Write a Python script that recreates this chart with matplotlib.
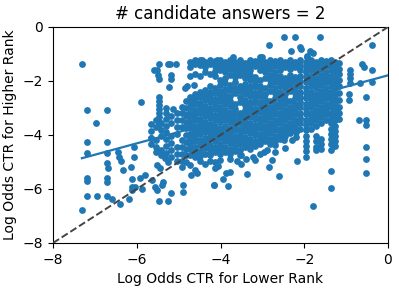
import numpy as np
import matplotlib
matplotlib.use("Agg")
import matplotlib.pyplot as plt

# ---- data (log-odds CTR lower rank vs higher rank) ----
sparse_x = [-7.31, -7.19, -6.71, -6.97, -5.90, -5.60, -5.52, -5.48, -5.49, -5.48,
            -5.25, -5.21, -5.07, -5.18, -5.18, -5.22,
            -5.48, -5.48, -5.48, -5.48, -5.48, -5.48, -5.48, -5.48,
            -5.29, -5.29, -5.13, -4.85, -4.81, -4.63, -4.82, -4.45, -4.09,
            -7.18, -6.70, -7.18, -6.70, -6.44, -6.42, -6.38, -6.07, -6.07, -6.70,
            -6.68, -6.32, -6.14, -7.18, -7.18, -6.70, -6.70, -6.11, -5.92, -5.80,
            -7.18, -6.96, -6.70, -6.60, -6.40, -6.18, -7.30, -6.12, -6.12, -6.04,
            -5.88, -5.67, -5.48, -5.25, -5.18, -4.89, -4.89, -5.56, -5.52, -5.37,
            -5.40, -5.64, -4.16, -5.33, -5.25, -5.52, -5.44, -4.71, -4.57,
            -0.53, -0.53, -0.53, -0.53, -1.37, -1.37, -1.78, -2.18, -2.60, -2.83,
            -2.76, -3.36, -3.51, -3.51, -3.18, -4.15, -3.81, -3.93, -3.88, -3.77,
            -4.12, -4.05, -2.46, -2.70, -2.70, -2.74, -2.20, -2.20, -2.30, -2.48,
            -2.48, -2.21, -1.62, -2.83, -2.32, -2.08, -1.86, -1.94, -0.39, -0.63,
            -0.57, -0.39, -0.39, -0.92, -0.92, -0.53, -0.69, -0.53, -3.70, -3.01,
            -0.91, -0.91, -0.91, -0.91, -0.67, -2.10, -1.78, -1.94,
            -3.05, -3.22, -2.95, -3.40, -2.88, -3.60]
sparse_y = [-1.37, -3.07, -3.07, -3.56, -2.78, -1.59, -1.59, -1.38, -1.78, -1.94,
            -1.38, -1.38, -1.38, -1.78, -1.94, -2.21,
            -2.60, -2.75, -2.90, -3.05, -3.20, -3.35, -3.50, -3.63,
            -3.01, -3.20, -3.04, -2.27, -2.19, -2.15, -3.26, -1.22, -1.22,
            -4.25, -4.25, -4.65, -4.68, -4.62, -4.83, -4.95, -4.43, -4.83, -5.05,
            -5.21, -5.30, -5.20, -5.60, -5.70, -5.60, -5.73, -5.64, -5.60, -5.48,
            -6.26, -6.26, -6.26, -6.37, -6.56, -6.37, -6.79, -5.91, -6.04, -5.91,
            -6.01, -4.10, -6.46, -6.46, -6.16, -5.85, -6.10, -5.91, -6.04, -5.73,
            -5.85, -5.67, -5.85, -4.86, -4.99, -5.11, -5.23, -5.48, -5.42,
            -3.63, -4.43, -4.90, -5.42, -5.33, -5.95, -6.63, -4.96, -5.52, -5.20,
            -4.93, -5.46, -5.09, -4.74, -4.93, -5.85, -5.89, -5.63, -5.42, -5.36,
            -5.23, -5.15, -4.47, -4.62, -4.37, -4.19, -3.88, -4.06, -4.19, -4.19,
            -0.38, -0.38, -0.38, -0.67, -0.88, -0.83, -0.88, -1.07, -0.67, -1.38,
            -1.47, -1.59, -2.02, -2.49, -2.70, -2.58, -3.44, -3.44, -1.11, -1.11,
            -1.59, -1.74, -1.89, -2.07, -2.09, -0.73, -0.98, -1.10,
            -4.70, -4.80, -4.62, -4.90, -4.55, -4.95]

# left-hand moderate cluster, listed column by column
left_x = ([-5.65] * 4 + [-5.55] * 5 + [-5.42] * 5 + [-5.30] * 6 + [-5.18] * 6
          + [-5.05] * 7 + [-4.93] * 9 + [-4.83] * 10)
left_y = [-3.60, -3.85, -4.10, -4.35,
          -3.45, -3.70, -4.20, -4.45, -4.62,
          -3.55, -3.80, -4.05, -4.55, -4.75,
          -3.40, -3.65, -3.90, -4.15, -4.40, -4.65,
          -3.30, -3.55, -4.05, -4.30, -4.55, -4.80,
          -3.20, -3.45, -3.70, -3.95, -4.45, -4.70, -4.95,
          -2.95, -3.20, -3.45, -3.70, -4.20, -4.45, -4.70, -4.95, -5.20,
          -2.75, -3.00, -3.25, -3.50, -3.75, -4.00, -4.25, -4.50, -4.75, -5.00]

# dense core: x of each stripe and the y values seen in it
core_cols_x = [-4.72, -4.61, -4.49, -4.37, -4.25, -4.13, -4.01, -3.89, -3.77, -3.65,
               -3.53, -3.41, -3.29, -3.17, -3.05, -2.93, -2.81, -2.69, -2.57, -2.45,
               -2.33, -2.21, -2.09, -1.97, -1.85, -1.73, -1.61, -1.49, -1.37, -1.27,
               -1.16]
core_cols_y = [
    [-1.30, -1.47, -1.80, -2.58, -2.77, -2.95, -3.18, -3.36, -3.55, -3.74, -3.96, -4.13, -4.35, -4.52, -4.74, -5.12],
    [-1.24, -1.38, -1.75, -2.49, -2.68, -2.86, -3.07, -3.27, -3.46, -3.66, -3.85, -4.05, -4.24, -4.44, -4.63, -4.83, -5.28],
    [-1.22, -1.41, -1.82, -2.42, -2.61, -2.81, -3.00, -3.19, -3.40, -3.58, -3.79, -3.98, -4.18, -4.37, -4.58, -4.77, -4.96],
    [-1.29, -1.48, -1.68, -2.33, -2.53, -2.72, -2.92, -3.11, -3.31, -3.51, -3.70, -3.90, -4.10, -4.30, -4.49, -4.69, -5.08],
    [-1.22, -1.37, -1.74, -2.20, -2.40, -2.60, -2.79, -2.99, -3.18, -3.38, -3.58, -3.77, -3.97, -4.16, -4.36, -4.56, -4.75, -4.95],
    [-1.27, -1.46, -1.64, -1.83, -2.26, -2.46, -2.66, -2.86, -3.05, -3.25, -3.45, -3.65, -3.84, -4.04, -4.24, -4.43, -4.63, -5.01],
    [-1.22, -1.40, -1.58, -1.96, -2.16, -2.36, -2.55, -2.75, -2.95, -3.14, -3.34, -3.53, -3.73, -3.93, -4.12, -4.32, -4.52, -4.71, -4.91],
    [-1.30, -1.49, -1.68, -1.88, -2.08, -2.28, -2.48, -2.67, -2.87, -3.06, -3.26, -3.46, -3.65, -3.85, -4.05, -4.24, -4.44, -4.64],
    [-1.22, -1.38, -1.57, -1.76, -2.15, -2.35, -2.55, -2.74, -2.94, -3.14, -3.33, -3.53, -3.73, -3.92, -4.12, -4.31, -4.51, -4.71, -4.90],
    [-1.28, -1.47, -1.66, -1.85, -2.05, -2.25, -2.44, -2.84, -3.03, -3.23, -3.43, -3.62, -3.82, -4.02, -4.21, -4.41, -4.61],
    [-1.22, -1.40, -1.60, -1.79, -2.18, -2.38, -2.58, -2.77, -3.17, -3.36, -3.56, -3.76, -3.95, -4.15, -4.35, -4.54, -4.74],
    [-1.33, -1.52, -1.71, -1.90, -2.10, -2.30, -2.49, -2.69, -2.89, -3.08, -3.28, -3.48, -3.67, -3.87, -4.07, -4.26, -4.46],
    [-1.22, -1.39, -1.58, -1.78, -1.97, -2.17, -2.37, -2.56, -2.76, -2.96, -3.15, -3.35, -3.55, -3.74, -3.94, -4.14, -4.33, -4.53],
    [-1.27, -1.46, -1.85, -2.05, -2.24, -2.44, -2.64, -2.83, -3.03, -3.23, -3.42, -3.62, -3.82, -4.01, -4.21, -4.41],
    [-1.10, -1.22, -1.40, -1.59, -1.98, -2.18, -2.38, -2.57, -2.77, -2.97, -3.16, -3.36, -3.56, -3.75, -3.95, -4.15, -4.34],
    [-1.30, -1.49, -1.68, -1.88, -2.27, -2.47, -2.67, -2.86, -3.06, -3.26, -3.45, -3.65, -3.85, -4.04, -4.24],
    [-1.22, -1.38, -1.57, -1.77, -1.96, -2.16, -2.36, -2.75, -2.95, -3.14, -3.34, -3.54, -3.73, -3.93, -4.13, -4.32],
    [-1.27, -1.46, -1.66, -1.86, -2.05, -2.25, -2.45, -2.64, -2.84, -3.04, -3.23, -3.43, -3.63, -3.82, -4.02, -4.22],
    [-1.22, -1.40, -1.60, -1.80, -1.99, -2.19, -2.39, -2.58, -2.78, -2.98, -3.17, -3.37, -3.57, -3.76, -3.96, -4.16],
    [-1.30, -1.49, -1.88, -2.08, -2.27, -2.47, -2.67, -2.86, -3.06, -3.26, -3.45, -3.65, -3.85, -4.04],
    [-1.22, -1.38, -1.57, -1.77, -1.96, -2.16, -2.36, -2.75, -2.95, -3.14, -3.34, -3.54, -3.73, -3.93],
    [-1.28, -1.47, -1.86, -2.05, -2.25, -2.45, -2.64, -2.84, -3.04, -3.23, -3.43, -3.63, -3.82],
    [-1.22, -1.40, -1.60, -1.80, -1.99, -2.19, -2.39, -2.58, -2.78, -2.98, -3.17, -3.37, -3.57, -3.76],
    [-1.28, -1.47, -1.66, -1.86, -2.05, -2.25, -2.45, -2.64, -2.84, -3.04, -3.23, -3.43, -3.63, -3.82, -4.02, -4.22, -4.41, -4.60, -4.80],
    [-1.22, -1.40, -1.60, -1.80, -1.99, -2.19, -2.39, -2.58, -2.78, -2.98, -3.17, -3.37, -3.57, -3.76],
    [-1.30, -1.49, -1.68, -1.88, -2.08, -2.27, -2.47, -2.67, -2.86, -3.06, -3.26, -3.45, -3.65, -4.04, -4.24, -4.44, -4.56],
    [-1.22, -1.38, -1.57, -1.77, -1.96, -2.16, -2.36, -2.55, -2.75, -2.95, -3.14, -3.34, -3.54, -4.13, -4.32, -4.52],
    [-1.27, -1.46, -1.66, -1.86, -2.05, -2.25, -2.45, -2.64, -2.84, -3.04, -3.23, -3.43],
    [-1.22, -1.40, -1.60, -1.80, -1.99, -2.19, -2.39, -2.58, -2.78, -2.98, -3.17, -3.37, -3.57, -3.76, -3.96, -4.16, -4.35, -4.55],
    [-1.30, -1.49, -1.68, -1.88, -2.08, -2.27, -2.47, -2.67, -2.86, -3.06, -3.26, -3.45, -3.65, -3.85, -4.04, -4.24, -4.40],
    [-1.35, -1.55, -1.75, -1.95, -2.20, -2.45, -2.70, -2.95, -3.20, -3.42],
]

# linear fit
fit_slope = 0.42
fit_intercept = -1.79

title_text = "# candidate answers = 2"
xlabel_text = "Log Odds CTR for Lower Rank"
ylabel_text = "Log Odds CTR for Higher Rank"
ticks = [-8, -6, -4, -2, 0]

# ---- assemble ----
core_x = [cx for cx, ys in zip(core_cols_x, core_cols_y) for _ in ys]
core_y = [y for ys in core_cols_y for y in ys]
x = np.array(sparse_x + left_x + core_x)
y = np.array(sparse_y + left_y + core_y)

fig = plt.figure(figsize=(3.99, 2.90), dpi=100)
ax = fig.add_axes([53 / 399, 1 - 243 / 290, 335 / 399, 216 / 290])

ax.scatter(x, y, s=24, color="#1f77b4", linewidths=0, zorder=2)

lx = np.array([x.min(), 0.0])
ax.plot(lx, fit_slope * lx + fit_intercept, color="#1f77b4", lw=1.6, zorder=3)
ax.plot([-8, 0], [-8, 0], ls="--", color="#444444", lw=1.4, zorder=4)

ax.set_xlim(-8, 0)
ax.set_ylim(-8, 0)
ax.set_xticks(ticks)
ax.set_yticks(ticks)
ax.tick_params(labelsize=10)
ax.set_title(title_text, fontsize=12)
ax.set_xlabel(xlabel_text, fontsize=10)
ax.set_ylabel(ylabel_text, fontsize=10)

fig.savefig("out.png", dpi=100)
